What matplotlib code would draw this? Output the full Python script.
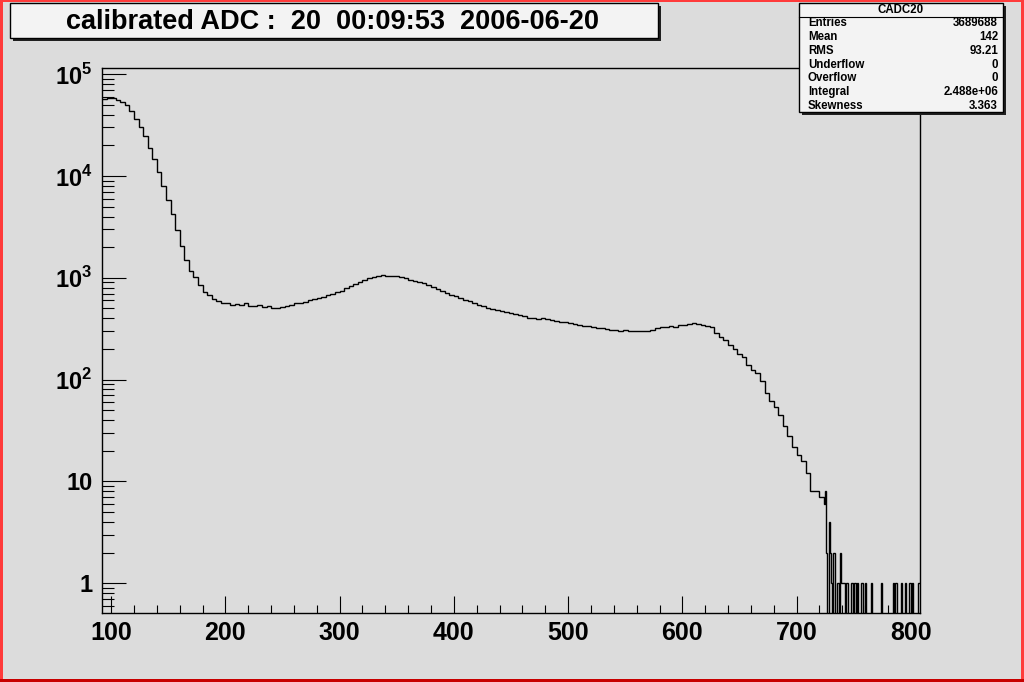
import numpy as np
import matplotlib.pyplot as plt
from matplotlib.patches import Rectangle
from matplotlib.ticker import FixedLocator, FixedFormatter, LogLocator, MultipleLocator, NullFormatter

plt.rcParams['font.family'] = ['Liberation Sans', 'DejaVu Sans']
plt.rcParams['font.weight'] = 'bold'
plt.rcParams['mathtext.fontset'] = 'custom'
plt.rcParams['mathtext.rm'] = 'Liberation Sans:bold'
plt.rcParams['mathtext.bf'] = 'Liberation Sans:bold'

# ---- data ----
# coarse bins (width 4) from 92 to 724
main_lo, main_width = 92, 4
main_counts = [
    57500, 58200, 58000, 56000, 53500, 49500, 43500, 36500, 30000, 24800,
    19000, 14600, 11000, 8000, 5800, 4200, 2950, 2050, 1500, 1170,
    1020, 850, 720, 680, 620, 590, 565, 560, 545, 550,
    540, 560, 530, 525, 540, 515, 525, 505, 500, 520,
    530, 540, 560, 570, 585, 600, 615, 630, 655, 675,
    700, 725, 750, 790, 830, 870, 900, 950, 1000, 1020,
    1040, 1055, 1045, 1035, 1040, 1015, 990, 960, 935, 910,
    885, 850, 810, 775, 740, 710, 680, 660, 630, 605,
    590, 565, 545, 525, 505, 490, 480, 470, 460, 450,
    445, 435, 425, 405, 400, 395, 400, 390, 385, 378,
    372, 365, 362, 355, 345, 338, 335, 325, 318, 320,
    312, 305, 308, 302, 305, 300, 302, 298, 300, 302,
    310, 318, 325, 330, 335, 330, 340, 345, 350, 360,
    350, 342, 335, 330, 290, 262, 245, 220, 200, 180,
    165, 140, 125, 115, 98, 74, 62, 54, 45, 35,
    28, 22, 18, 16, 12, 8, 8, 7,
]
# fine bins (width 1) in the tail, 724 to 808
tail_lo, tail_width = 724, 1
tail_counts = [
    6, 8, 2, 0, 4, 2, 1, 0, 2, 2,
    0, 1, 1, 0, 2, 1, 1, 1, 0, 1,
    1, 0, 0, 0, 1, 0, 1, 1, 0, 1,
    0, 0, 1, 1, 0, 0, 1, 0, 0, 0,
    0, 1, 0, 0, 0, 0, 0, 0, 0, 0,
    1, 0, 0, 0, 0, 0, 0, 0, 0, 0,
    1, 0, 1, 1, 0, 0, 0, 1, 0, 0,
    0, 1, 0, 0, 1, 1, 0, 1, 0, 0,
    0, 0, 1, 1,
]

title = 'calibrated ADC :  20  00:09:53  2006-06-20'
stats_name = 'CADC20'
stats_labels = ['Entries', 'Mean', 'RMS', 'Underflow', 'Overflow', 'Integral', 'Skewness']
stats_values = ['3689688', '142', '93.21', '0', '0', '2.488e+06', '3.363']

x_range = (92, 808)
y_range = (0.51, 1.15e5)
y_ticks = [1, 10, 100, 1000, 10000, 100000]
y_tick_labels = ['1', '10', '$10^{2}$', '$10^{3}$', '$10^{4}$', '$10^{5}$']

# ---- figure ----
W, H = 1024, 682
bg = '#dcdcdc'
fig = plt.figure(figsize=(W / 100, H / 100), dpi=100, facecolor=bg)


def px_rect(x0, y0, x1, y1, **kw):
    r = Rectangle((x0 / W, 1 - y1 / H), (x1 - x0) / W, (y1 - y0) / H,
                  transform=fig.transFigure, **kw)
    fig.add_artist(r)
    return r


ax = fig.add_axes([102 / W, (H - 613) / H, 818 / W, 545 / H])
ax.set_facecolor(bg)

edges = np.concatenate([
    main_lo + main_width * np.arange(len(main_counts) + 1),
    tail_lo + tail_width * np.arange(1, len(tail_counts) + 1),
])
counts = np.array(main_counts + tail_counts, dtype=float)
ax.stairs(counts, edges, color='black', lw=1.0, baseline=None)

ax.set_yscale('log')
ax.set_xlim(*x_range)
ax.set_ylim(*y_range)

ax.yaxis.set_major_locator(FixedLocator(y_ticks))
ax.yaxis.set_major_formatter(FixedFormatter(y_tick_labels))
ax.yaxis.set_minor_locator(LogLocator(base=10, subs=np.arange(2, 10)))
ax.yaxis.set_minor_formatter(NullFormatter())
ax.xaxis.set_major_locator(MultipleLocator(100))
ax.xaxis.set_minor_locator(MultipleLocator(20))

ax.tick_params(axis='y', which='major', direction='in', length=17.3, width=0.8,
               labelsize=17, pad=7, right=False)
ax.tick_params(axis='y', which='minor', direction='in', length=8.6, width=0.8, right=False)
ax.tick_params(axis='x', which='major', direction='in', length=12.2, width=0.8,
               labelsize=18, pad=6, top=False)
ax.tick_params(axis='x', which='minor', direction='in', length=5.8, width=0.8, top=False)
for lab in ax.get_xticklabels() + ax.get_yticklabels():
    lab.set_fontweight('bold')
for s in ax.spines.values():
    s.set_linewidth(1.0)
    s.set_color('black')

# red pad border
px_rect(0, 0, 2.5, H, facecolor='#ff3b3b', edgecolor='none')
px_rect(W - 3, 0, W, H, facecolor='#ff3b3b', edgecolor='none')
px_rect(0, 0, W, 1.5, facecolor='#ff3b3b', edgecolor='none')
px_rect(0, H - 3, W, H, facecolor='#c80000', edgecolor='none')

# title box
px_rect(13, 6, 661, 41, facecolor='#202020', edgecolor='none')
px_rect(10, 3, 658, 38, facecolor='#f3f3f3', edgecolor='black', lw=1)
fig.text(333 / W, 1 - 22 / H, title, ha='center', va='center',
         fontsize=19.5, fontweight='bold', color='black')

# stats box
px_rect(802, 6, 1006, 115, facecolor='#202020', edgecolor='none')
px_rect(799, 3, 1003, 112, facecolor='#f3f3f3', edgecolor='black', lw=1)
fig.add_artist(plt.Line2D([799 / W, 1003 / W], [1 - 16.5 / H, 1 - 16.5 / H],
                          transform=fig.transFigure, color='black', lw=0.8))
fig.text(901 / W, 1 - 10 / H, stats_name, ha='center', va='center',
         fontsize=8.3, fontweight='bold')
for i, (lab, val) in enumerate(zip(stats_labels, stats_values)):
    yy = 1 - (23.5 + 13.7 * i) / H
    fig.text(808 / W, yy, lab, ha='left', va='center', fontsize=8.3, fontweight='bold')
    fig.text(998 / W, yy, val, ha='right', va='center', fontsize=8.3, fontweight='bold')

fig.savefig('out.png', dpi=100, facecolor=bg)
